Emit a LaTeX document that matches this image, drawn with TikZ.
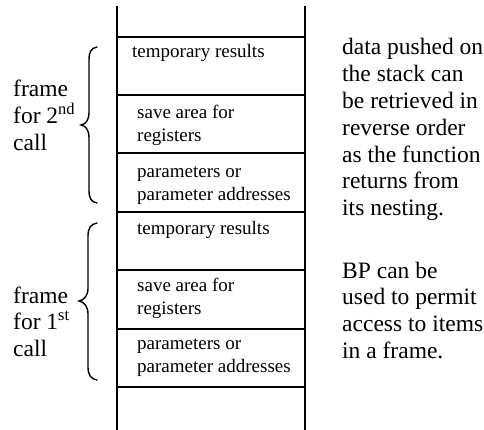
\documentclass[tikz,border=0pt]{standalone}
\usepackage{fontspec}
\setmainfont{Liberation Serif}
\begin{document}
\begin{tikzpicture}[x=1pt,y=-1pt,
  wall/.style={line width=2pt},
  bracestyle/.style={line width=1.4pt,line cap=round},
  celltxt/.style={anchor=base west,inner sep=0pt,font=\fontsize{19}{22.5}\selectfont,align=left},
  sidetxt/.style={anchor=base west,inner sep=0pt,font=\fontsize{23.5}{26.8}\selectfont,align=left}]
\useasboundingbox (0,0) rectangle (484,430);
% stack walls
\coordinate (lt) at (117,6);  \coordinate (lb) at (117,430);
\coordinate (rt) at (305,6);  \coordinate (rb) at (305,430);
\draw[wall] (lt) -- (lb);
\draw[wall] (rt) -- (rb);
% cell dividers
\foreach \y/\n in {37/a,95/b,153/c,212/d,270/e,329/f,387/g}{
  \coordinate (h\n l) at (117,\y);
  \coordinate (h\n r) at (305,\y);
  \draw[wall] (h\n l) -- (h\n r);
}
% cell texts (multi-line nodes are anchored at the baseline of their last line)
\node[celltxt] (t1) at (132,58) {temporary results};
\node[celltxt] (s1) at (137,141.5) {save area for\\registers};
\node[celltxt] (p1) at (137,200.5) {parameters or\\parameter addresses};
\node[celltxt] (t2) at (137,234) {temporary results};
\node[celltxt] (s2) at (137,314) {save area for\\registers};
\node[celltxt] (p2) at (137,372) {parameters or\\parameter addresses};
% frame labels
\node[sidetxt] (f2) at (13,150.6) {frame\\for 2\textsuperscript{nd}\\call};
\node[sidetxt] (f1) at (13,356.6) {frame\\for 1\textsuperscript{st}\\call};
% braces
\coordinate (b2top) at (97,47);
\coordinate (b2tip) at (81,125);
\coordinate (b2bot) at (97,203);
\draw[bracestyle] (b2top) .. controls (91,48) and (89,52) .. (89,60) -- (89,112)
  .. controls (89,120) and (86,124) .. (b2tip)
  .. controls (86,126) and (89,130) .. (89,138) -- (89,190)
  .. controls (89,198) and (91,202) .. (b2bot);
\coordinate (b1top) at (97,223);
\coordinate (b1tip) at (79,301);
\coordinate (b1bot) at (97,380);
\draw[bracestyle] (b1top) .. controls (91,224) and (88,228) .. (88,236) -- (88,288)
  .. controls (88,296) and (84,300) .. (b1tip)
  .. controls (84,302) and (88,306) .. (88,314) -- (88,367)
  .. controls (88,375) and (91,379) .. (b1bot);
% explanatory text
\node[sidetxt] (n1) at (342,215.8) {data pushed on\\the stack can\\be retrieved in\\reverse order\\as the function\\returns from\\its nesting.};
\node[sidetxt] (n2) at (342,358.4) {BP can be\\used to permit\\access to items\\in a frame.};
\end{tikzpicture}
\end{document}
